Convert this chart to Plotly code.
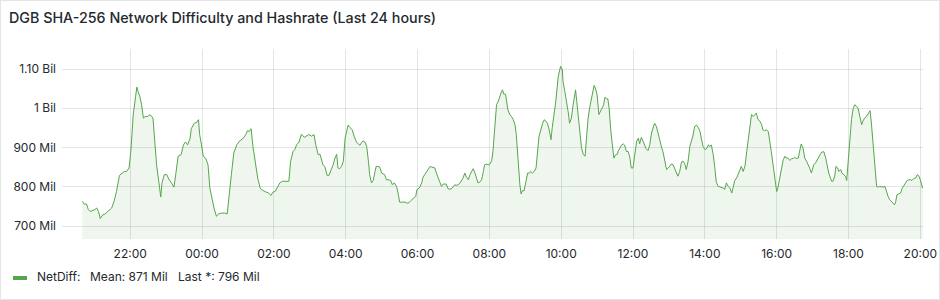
import plotly.graph_objects as go
import pandas as pd

# ---- data ----
times = [
    "20:40","20:43","20:47","20:50","20:53","20:57","21:01","21:04","21:07","21:10",
    "21:13","21:18","21:23","21:29","21:33","21:37","21:42","21:46","21:50","21:54",
    "21:58","22:01","22:05","22:09","22:11","22:13","22:16","22:19","22:22","22:25",
    "22:29","22:33","22:36","22:38","22:41","22:44","22:48","22:51","22:53","22:57",
    "23:01","23:05","23:09","23:13","23:16","23:20","23:25","23:29","23:32","23:36",
    "23:40","23:42","23:47","23:51","23:54","23:56","23:59","00:02","00:06","00:10",
    "00:13","00:17","00:20","00:24","00:28","00:33","00:38","00:42","00:45","00:49",
    "00:53","00:58","01:03","01:09","01:13","01:16","01:19","01:22","01:25","01:29",
    "01:33","01:37","01:39","01:45","01:51","01:55","01:59","02:02","02:06","02:10",
    "02:14","02:18","02:25","02:28","02:32","02:35","02:38","02:42","02:46","02:51",
    "02:55","02:58","03:03","03:07","03:10","03:14","03:17","03:20","03:22","03:25",
    "03:29","03:32","03:35","03:39","03:42","03:45","03:47","03:50","03:53","03:56",
    "03:59","04:01","04:04","04:07","04:11","04:14","04:18","04:21","04:24","04:26",
    "04:29","04:32","04:35","04:38","04:40","04:43","04:46","04:49","04:51","04:54",
    "04:57","05:00","05:03","05:05","05:08","05:11","05:15","05:18","05:21","05:25",
    "05:28","05:30","05:34","05:39","05:43","05:46","05:49","05:53","05:57","05:59",
    "06:03","06:07","06:09","06:12","06:17","06:21","06:24","06:29","06:32","06:36",
    "06:40","06:43","06:46","06:48","06:51","06:54","06:57","07:00","07:02","07:05",
    "07:08","07:11","07:14","07:16","07:19","07:22","07:25","07:27","07:30","07:33",
    "07:36","07:39","07:41","07:44","07:47","07:50","07:52","07:55","07:58","08:01",
    "08:04","08:06","08:09","08:12","08:15","08:18","08:20","08:22","08:24","08:27",
    "08:29","08:31","08:34","08:37","08:40","08:43","08:45","08:48","08:51","08:53",
    "08:55","08:58","09:00","09:04","09:07","09:09","09:12","09:15","09:18","09:20",
    "09:23","09:26","09:29","09:32","09:34","09:37","09:40","09:43","09:45","09:48",
    "09:51","09:55","09:57","09:59","10:02","10:03","10:06","10:09","10:12","10:14",
    "10:17","10:20","10:23","10:24","10:26","10:28","10:31","10:34","10:37","10:40",
    "10:41","10:43","10:45","10:48","10:51","10:53","10:55","10:57","11:00","11:03",
    "11:06","11:08","11:11","11:13","11:16","11:18","11:20","11:23","11:26","11:28",
    "11:31","11:34","11:35","11:38","11:41","11:44","11:46","11:49","11:52","11:55",
    "11:57","12:00","12:03","12:06","12:09","12:11","12:14","12:17","12:20","12:22",
    "12:25","12:28","12:31","12:34","12:36","12:39","12:42","12:45","12:48","12:50",
    "12:53","12:56","12:59","13:01","13:04","13:07","13:10","13:13","13:15","13:18",
    "13:21","13:24","13:27","13:29","13:32","13:35","13:38","13:40","13:43","13:46",
    "13:49","13:52","13:54","13:57","14:00","14:03","14:06","14:08","14:11","14:14",
    "14:17","14:19","14:22","14:25","14:28","14:31","14:33","14:36","14:39","14:42",
    "14:45","14:47","14:50","14:53","14:56","14:58","15:01","15:04","15:07","15:10",
    "15:12","15:15","15:18","15:21","15:24","15:26","15:29","15:32","15:35","15:37",
    "15:40","15:43","15:46","15:49","15:51","15:54","15:57","16:00","16:02","16:05",
    "16:08","16:11","16:14","16:16","16:19","16:22","16:25","16:28","16:30","16:33",
    "16:36","16:39","16:41","16:44","16:47","16:50","16:53","16:55","16:58","17:00",
    "17:02","17:05","17:08","17:10","17:13","17:16","17:19","17:22","17:24","17:27",
    "17:30","17:32","17:34","17:37","17:39","17:42","17:44","17:47","17:49","17:52",
    "17:55","17:57","17:59","18:02","18:05","18:08","18:11","18:13","18:16","18:19",
    "18:22","18:24","18:27","18:30","18:33","18:36","18:38","18:41","18:44","18:47",
    "18:50","18:52","18:55","18:58","19:01","19:03","19:06","19:09","19:12","19:15",
    "19:17","19:19","19:21","19:24","19:27","19:30","19:32","19:35","19:38","19:41",
    "19:44","19:46","19:49","19:52","19:55","19:57","20:00","20:04",
]

netdiff_mil = [
    763,756,756,742,737,739,742,746,737,719,
    727,731,739,746,763,788,829,835,839,839,
    848,890,984,1030,1054,1043,1030,1009,975,979,
    979,984,979,975,916,856,810,774,810,831,
    831,818,810,799,831,878,882,907,914,907,
    924,948,962,964,971,933,907,878,873,856,
    797,763,746,725,731,733,733,731,780,831,
    886,907,917,924,933,943,941,948,903,856,
    822,797,793,788,784,778,787,788,799,810,
    814,814,814,865,890,895,907,914,934,926,
    929,933,929,933,907,882,883,869,856,852,
    829,829,839,856,873,883,848,846,852,865,
    924,941,957,951,945,929,914,909,906,912,
    917,914,903,865,831,810,816,839,852,852,
    850,835,833,831,818,818,816,805,810,801,
    780,761,761,761,758,760,765,771,776,793,
    797,810,824,831,844,852,850,848,833,818,
    801,807,807,807,795,794,795,801,805,804,
    805,810,818,822,835,824,818,829,838,846,
    835,822,810,812,818,839,856,858,856,858,
    867,890,950,1009,1018,1035,1041,1047,1036,1036,
    1018,996,984,979,971,957,933,865,805,782,
    790,790,805,835,835,839,835,839,848,890,
    929,945,962,971,968,962,945,920,950,979,
    1018,1080,1098,1107,1098,1069,1043,1018,988,962,
    975,1009,1043,1047,1018,984,941,899,882,878,
    899,950,975,1005,1030,1047,1058,1052,1035,984,
    992,1001,1009,1028,1024,1024,1001,941,899,873,
    882,883,890,900,907,909,906,890,890,873,
    848,848,882,916,924,909,926,914,907,897,
    892,907,937,954,962,954,934,916,899,890,
    865,844,848,852,858,856,844,831,827,839,
    863,865,856,844,865,903,920,929,954,957,
    951,941,924,903,895,897,907,903,906,882,
    844,814,801,799,797,797,793,810,801,797,
    784,801,816,822,835,844,852,839,852,890,
    917,950,984,979,984,988,971,967,958,945,
    943,945,941,916,890,856,814,788,797,822,
    848,869,878,873,873,867,872,872,875,872,
    873,895,909,899,873,865,856,848,835,844,
    856,861,869,878,883,889,889,873,856,835,
    822,814,814,827,852,848,839,844,835,831,
    827,816,856,916,971,1001,1009,1005,1001,979,
    958,967,975,979,988,994,967,916,856,801,
    799,801,800,799,801,788,776,767,763,757,
    754,763,780,782,784,797,801,810,816,818,
    818,816,821,822,831,829,818,796,
]

series_name = "NetDiff"
legend_mean_mil = 871
legend_last_mil = 796

y_tick_values_mil = [700, 800, 900, 1000, 1100]
y_tick_labels = ["700 Mil", "800 Mil", "900 Mil", "1 Bil", "1.10 Bil"]

title_text = "DGB SHA-256 Network Difficulty and Hashrate (Last 24 hours)"

# ---- build timestamps (roll over to next day) ----
base = pd.Timestamp("2024-05-01")
ts = []
day = 0
prev = None
for t in times:
    h, m = map(int, t.split(":"))
    mins = h * 60 + m
    if prev is not None and mins < prev:
        day += 1
    prev = mins
    ts.append(base + pd.Timedelta(days=day, hours=h, minutes=m))

values = [v * 1e6 for v in netdiff_mil]

# ---- layout geometry ----
W_PX, H_PX = 940, 300
L, R, T, B = 62, 17, 49, 61
PW = W_PX - L - R
PH = H_PX - T - B


def px(x):
    return (x - L) / PW


def py(y):
    return (H_PX - B - y) / PH


LINE = "#56A64B"
TEXT = "#24292E"
GRID = "rgba(36,41,46,0.12)"
FONT = "Inter"

fig = go.Figure()
fig.add_trace(go.Scatter(
    x=ts, y=values, mode="lines",
    line=dict(color=LINE, width=1),
    fill="tozeroy", fillcolor="rgba(86,166,75,0.10)",
    name=series_name, showlegend=False, hoverinfo="skip",
))

x_start = base + pd.Timedelta(hours=20, minutes=6)
x_end = base + pd.Timedelta(days=1, hours=20, minutes=4, seconds=30)

fig.update_layout(
    width=W_PX, height=H_PX,
    margin=dict(l=L, r=R, t=T, b=B, autoexpand=False),
    paper_bgcolor="white", plot_bgcolor="white",
    font=dict(family=FONT, size=12, color=TEXT),
    title=dict(
        text=title_text, x=9 / W_PX, xref="container", xanchor="left",
        y=1 - 17.5 / H_PX, yref="container", yanchor="middle",
        font=dict(family=FONT, size=14.3, color=TEXT, weight=500),
    ),
    xaxis=dict(
        type="date", range=[x_start, x_end], automargin=False,
        tickformat="%H:%M", dtick=2 * 3600 * 1000,
        tick0=base + pd.Timedelta(hours=22),
        showgrid=True, gridcolor=GRID, gridwidth=1,
        zeroline=False, showline=False, ticks="",
        tickfont=dict(family=FONT, size=12, color=TEXT),
        ticklabelstandoff=6,
    ),
    yaxis=dict(
        range=[667e6, 1151e6], automargin=False,
        tickvals=[v * 1e6 for v in y_tick_values_mil],
        ticktext=y_tick_labels,
        showgrid=True, gridcolor=GRID, gridwidth=1,
        zeroline=False, showline=False, ticks="",
        tickfont=dict(family=FONT, size=12, color=TEXT),
        ticklabelstandoff=5,
    ),
    showlegend=False,
)

# panel border
fig.add_shape(type="rect", xref="paper", yref="paper",
              x0=px(0.5), x1=px(939.5), y0=py(299.5), y1=py(0.5),
              line=dict(color=GRID, width=1), fillcolor="rgba(0,0,0,0)", layer="below")

# legend marker
fig.add_shape(type="rect", xref="paper", yref="paper",
              x0=px(13), x1=px(27), y0=py(280), y1=py(276),
              line=dict(width=0), fillcolor=LINE)

legend_items = [
    (35, f"{series_name}:"),
    (87.7, f"Mean: {legend_mean_mil} Mil"),
    (175.7, f"Last *: {legend_last_mil} Mil"),
]
for xpx, txt in legend_items:
    fig.add_annotation(text=txt, xref="paper", yref="paper",
                       x=px(xpx), y=py(276.7), xanchor="left", yanchor="middle",
                       showarrow=False, font=dict(family=FONT, size=12, color=TEXT))

fig.write_html("out.html")
